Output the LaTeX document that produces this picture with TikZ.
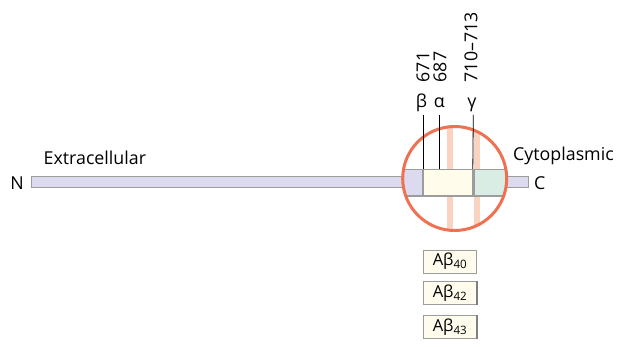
\documentclass[tikz,border=0pt]{standalone}
\usepackage{fontspec}
\setmainfont{Open Sans}
\usetikzlibrary{positioning}

\definecolor{lavbar}{HTML}{DCDAEE}
\definecolor{creambar}{HTML}{FFFCEC}
\definecolor{greenbar}{HTML}{DAEDE4}
\definecolor{edgegray}{HTML}{9C9C9C}
\definecolor{ringred}{HTML}{EE7152}
\definecolor{stripepink}{HTML}{FAD2C0}
\definecolor{boxfill}{HTML}{FFFCEE}

\begin{document}
\begin{tikzpicture}[
    x=1pt, y=-1pt,
    every node/.style={font=\fontsize{17.8}{20}\selectfont, inner sep=0pt},
    seg/.style={draw=edgegray, line width=1.3pt, minimum height=26.5},
    thinbar/.style={draw=edgegray, line width=1.3pt, fill=lavbar, minimum height=11},
    greek/.style={anchor=base},
    resnum/.style={rotate=90, anchor=west},
    peptide/.style={draw=edgegray, line width=0.8pt, fill=boxfill, minimum width=53, minimum height=23,
        font=\fontsize{16.5}{18}\selectfont},
    stripe/.style={stripepink, line width=5.5pt},
]
\useasboundingbox (0,0) rectangle (620,347);

% --- Cleavage region ---
\coordinate (ring) at (454.7,178.5);
\begin{scope}
  \clip (ring) circle (52);
  \draw[stripe] (450,120) -- (450,240);
  \draw[stripe] (477.2,120) -- (477.2,240);
\end{scope}

% --- Protein ---
\node[thinbar, anchor=west, minimum width=497] (app) at (31,182.3) {};
\begin{scope}
  \clip (ring) circle (52);
  \node[seg, fill=lavbar, anchor=east, minimum width=30] (ecto) at (423,182.7) {};
  \node[seg, fill=creambar, anchor=west, minimum width=49] (abeta) at (423,182.7) {};
  \node[seg, fill=greenbar, anchor=west, minimum width=36] (cyto) at (472.5,182.7) {};
\end{scope}
\draw[edgegray, line width=2.6pt] (abeta.north east) -- (abeta.south east);
\draw[ringred, line width=3pt] (ring) circle (52);

% --- Ends ---
\node[anchor=base east] (nterm) at (24,190) {N};
\node[anchor=base west] (cterm) at (534,190) {C};
\node[anchor=base west] (extra) at (43.5,164.5) {Extracellular};
\node[anchor=base west] (intra) at (513,161) {Cytoplasmic};

% --- Secretase sites ---
\node[greek] (beta) at (421.5,107.5) {β};
\node[greek] (alpha) at (439.3,107.5) {α};
\node[greek] (gamma) at (471.8,107.5) {γ};
\coordinate (ltop) at (0,115);
\draw[line width=0.8pt] (abeta.north west |- ltop) -- (abeta.north west);
\draw[line width=0.8pt] (alpha |- ltop) -- (alpha |- abeta.north);
\draw[line width=0.8pt] (abeta.north east |- ltop) -- ([xshift=-0.5pt]abeta.north east);

\node[resnum] (n671) at (423,82.5) {671};
\node[resnum] (n687) at (440,82.5) {687};
\node[resnum] (n710) at (471,82.5) {710–713};

% --- Peptides ---
\node[peptide] (p40) at (450,261.5) {Aβ\textsubscript{40}};
\node[peptide, below=8pt of p40] (p42) {Aβ\textsubscript{42}};
\node[peptide, below=10pt of p42] (p43) {Aβ\textsubscript{43}};
\draw[gray, line width=2pt] (p42.north east) -- (p42.south east);
\draw[gray, line width=2pt] (p43.north east) -- (p43.south east);

\end{tikzpicture}
\end{document}
